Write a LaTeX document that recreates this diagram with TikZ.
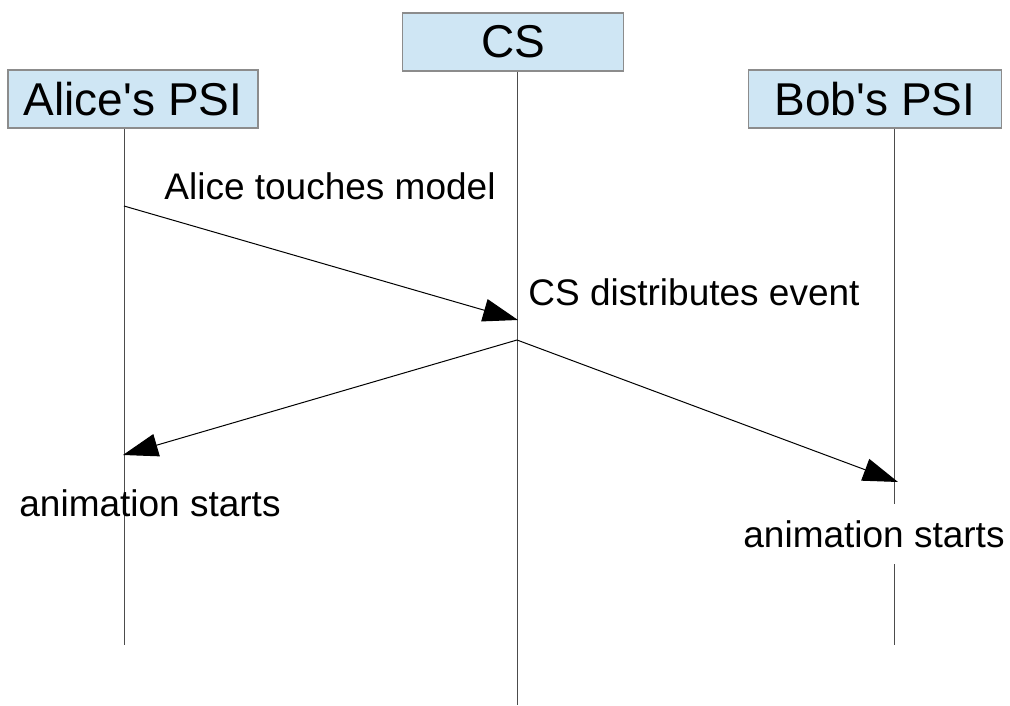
\documentclass[tikz,border=0pt]{standalone}
\usepackage{fontspec}
\setmainfont{Liberation Sans}
\usetikzlibrary{arrows.meta}

\definecolor{boxblue}{HTML}{CFE6F4}
\definecolor{boxline}{HTML}{8C8C8C}

\begin{document}
\begin{tikzpicture}[x=1pt, y=-1pt,
  actor/.style={draw=boxline, line width=1.3pt, fill=boxblue, inner sep=0pt, font=\fontsize{46}{50}\selectfont},
  life/.style={draw=black!70, line width=1pt},
  msg/.style={draw, line width=1pt, -{Triangle[length=35pt, width=23pt]}},
  lbl/.style={font=\fontsize{37}{40}\selectfont, inner sep=0pt}
]
\useasboundingbox (0,0) rectangle (1010,706);

\node[actor, minimum width=250pt, minimum height=58pt] (alice) at (133,99) {Alice\textquotesingle s PSI};
\node[actor, minimum width=221pt, minimum height=58pt] (cs) at (513,42) {CS};
\node[actor, minimum width=253pt, minimum height=58pt] (bob) at (875,99) {Bob\textquotesingle s PSI};

\coordinate (aliceend) at (124,645);
\coordinate (csend) at (517,705);
\coordinate (bobend) at (894,645);

\draw[life] (alice.south -| aliceend) -- (aliceend);
\draw[life] (cs.south -| csend) -- (csend);
\draw[life] (bob.south -| bobend) -- (bobend);

% messages
\coordinate (touch) at (124,206);
\coordinate (recv) at (518,320);
\coordinate (send) at (517,340);
\coordinate (aliceanim) at (123,455);
\coordinate (bobanim) at (898,482);

\draw[msg] (touch) -- (recv);
\draw[msg] (send) -- (aliceanim);
\draw[msg] (send) -- (bobanim);

\node[lbl] (touchlbl) at (330,186) {Alice touches model};
\node[lbl] (distlbl) at (694,292) {CS distributes event};
\node[lbl] (alicestart) at (150,503) {animation starts};
\node[lbl, fill=white, minimum height=60pt] (bobstart) at (874,534) {animation starts};
\end{tikzpicture}
\end{document}
